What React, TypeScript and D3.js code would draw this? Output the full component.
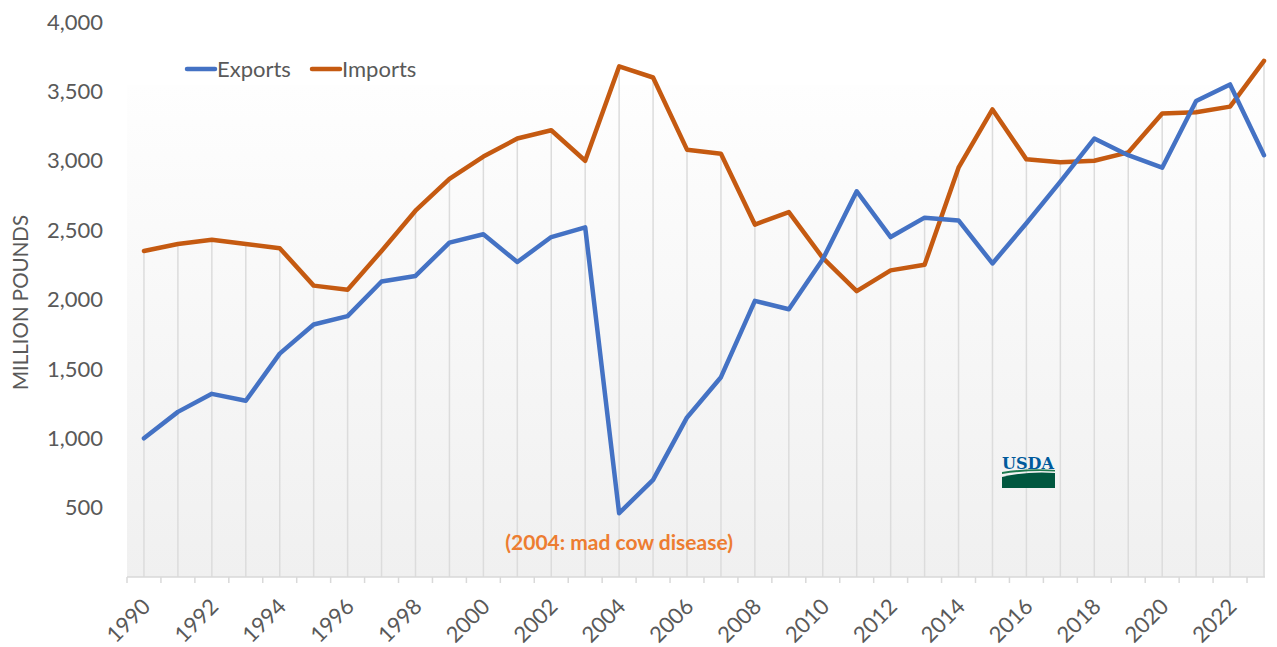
import React from 'react';
import * as d3 from 'd3';

const years = d3.range(1990, 2024);
const exportsLbs = [1000, 1190, 1320, 1270, 1610, 1820, 1880, 2130, 2170, 2410, 2470, 2270, 2450, 2520, 460, 700, 1150, 1440, 1990, 1930, 2290, 2780, 2450, 2590, 2570, 2260, 2550, 2850, 3160, 3040, 2950, 3430, 3550, 3040];
const importsLbs = [2350, 2400, 2430, 2400, 2370, 2100, 2070, 2350, 2640, 2870, 3030, 3160, 3220, 3000, 3680, 3600, 3080, 3050, 2540, 2630, 2300, 2060, 2210, 2250, 2950, 3370, 3010, 2990, 3000, 3060, 3340, 3350, 3390, 3720];
const yTicks = [500, 1000, 1500, 2000, 2500, 3000, 3500, 4000];

const W = 1277, H = 647;
const left = 127, right = 1265, bandEnd = 127 + 34 * 33.94;
const top = 22, base = 577;
const font = 'Lato, "Open Sans", sans-serif';

export default function App() {
  const x = d3.scaleBand<number>().domain(years).range([left, bandEnd]);
  const cx = (yr: number) => (x(yr) as number) + x.bandwidth() / 2;
  const y = d3.scaleLinear().domain([0, 4000]).range([base, top]);
  const line = d3.line<number>().x((_, i) => cx(years[i])).y(d => y(d));

  return (
    <svg width={W} height={H} style={{ position: 'absolute', left: 0, top: 0 }}>
      <defs>
        <linearGradient id="bg" x1="0" y1="0" x2="0" y2="1">
          <stop offset="0" stopColor="#fefefe" />
          <stop offset="1" stopColor="#f0f0f0" />
        </linearGradient>
      </defs>
      <rect x={0} y={0} width={W} height={H} fill="#fff" />
      <rect x={left} y={85} width={right - left} height={base - 85} fill="url(#bg)" />

      {/* drop lines */}
      {years.map((yr, i) => (
        <line key={yr} x1={cx(yr)} x2={cx(yr)} y1={y(Math.max(exportsLbs[i], importsLbs[i]))} y2={base}
          stroke="#dcdcdc" strokeWidth={1.5} />
      ))}

      {/* axis */}
      <line x1={left} x2={right} y1={base} y2={base} stroke="#d9d9d9" strokeWidth={1.5} />
      {years.map(yr => (
        <line key={'t' + yr} x1={x(yr)} x2={x(yr)} y1={base} y2={base + 6} stroke="#d9d9d9" strokeWidth={1.5} />
      ))}
      {years.filter(yr => yr % 2 === 0).map(yr => (
        <text key={'l' + yr} transform={`translate(${cx(yr) - 3},${base + 20}) rotate(-45)`}
          textAnchor="end" dy="0.7em" fontFamily={font} fontSize={22} fill="#595959">{yr}</text>
      ))}

      {yTicks.map(v => (
        <text key={v} x={103} y={y(v)} dy="0.35em" textAnchor="end" fontFamily={font} fontSize={22} fill="#595959">
          {d3.format(',')(v)}
        </text>
      ))}
      <text transform={`translate(28,${y(2000) + 3}) rotate(-90)`} textAnchor="middle" fontFamily={font} fontSize={20.5} fill="#595959">
        MILLION POUNDS
      </text>

      <path d={line(importsLbs) ?? ''} fill="none" stroke="#C55A11" strokeWidth={4.5} strokeLinejoin="round" strokeLinecap="round" />
      <path d={line(exportsLbs) ?? ''} fill="none" stroke="#4472C4" strokeWidth={4.5} strokeLinejoin="round" strokeLinecap="round" />

      {/* legend */}
      <line x1={187} x2={215} y1={69} y2={69} stroke="#4472C4" strokeWidth={4.5} strokeLinecap="round" />
      <text x={217} y={69} dy="0.35em" fontFamily={font} fontSize={22} fill="#595959">Exports</text>
      <line x1={312} x2={340} y1={69} y2={69} stroke="#C55A11" strokeWidth={4.5} strokeLinecap="round" />
      <text x={342} y={69} dy="0.35em" fontFamily={font} fontSize={22} fill="#595959">Imports</text>

      <text x={cx(2004)} y={543} dy="0.35em" textAnchor="middle" fontFamily={font} fontSize={21} fontWeight="bold" fill="#ED7D31">
        (2004: mad cow disease)
      </text>

      {/* USDA logo */}
      <g transform="translate(1002,452)">
        <text x={26} y={17} textAnchor="middle" fontFamily='"DejaVu Serif", serif' fontWeight="bold" fontSize={17} fill="#005A9C" textLength={52} lengthAdjust="spacingAndGlyphs">USDA</text>
        <path d="M0,20 Q26,16 53,18 L53,19.5 Q26,18 0,22 Z" fill="#1d7a4f" />
        <path d="M0,25 Q26,19 53,21 L53,36 L0,36 Z" fill="#00573F" />
      </g>
    </svg>
  );
}
